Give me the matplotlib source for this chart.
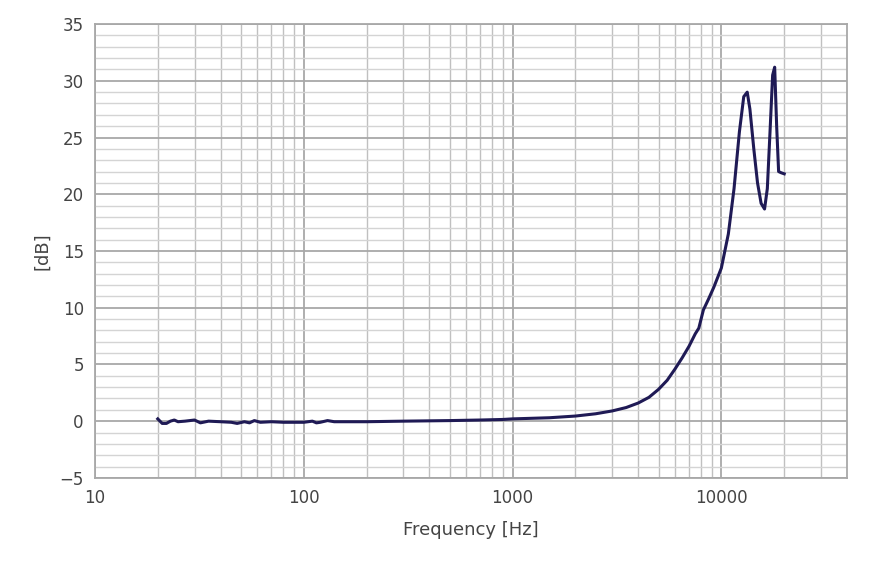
import numpy as np
import matplotlib.pyplot as plt
from matplotlib.ticker import FixedLocator, MultipleLocator, NullFormatter

freq = [20, 21, 22, 23, 24, 25, 27, 30, 32, 35, 40, 45, 48, 52, 55, 58, 62, 70, 80, 100,
        110, 115, 120, 130, 140, 160, 200, 300, 500, 700, 900, 1000, 1500, 2000, 2500, 3000,
        3500, 4000, 4500, 5000, 5500, 6000, 6500, 7000, 7500, 7800, 8200, 8700, 9200, 10000,
        10800, 11500, 12200, 12800, 13300, 13700, 14300, 14900, 15500, 16100, 16600, 17100,
        17600, 18000, 18400, 18800, 19300, 20000]
db = [0.2, -0.2, -0.2, 0.0, 0.1, -0.05, 0.0, 0.1, -0.15, 0.0, -0.05, -0.1, -0.2, -0.05, -0.15, 0.05, -0.1, -0.05, -0.1, -0.1,
      0.0, -0.15, -0.1, 0.05, -0.05, -0.05, -0.05, 0.0, 0.05, 0.1, 0.15, 0.2, 0.3, 0.45, 0.65, 0.9,
      1.2, 1.6, 2.1, 2.8, 3.6, 4.6, 5.6, 6.6, 7.7, 8.2, 9.8, 10.8, 11.8, 13.5,
      16.5, 20.5, 25.5, 28.6, 29.0, 27.5, 24.0, 21.0, 19.2, 18.7, 20.5, 25.5,
      30.5, 31.2, 26.0, 22.0, 21.9, 21.8]

fig, ax = plt.subplots(figsize=(8.87, 5.73), dpi=100)
fig.subplots_adjust(left=0.107, right=0.955, top=0.958, bottom=0.166)

ax.set_xscale('log')
ax.set_xlim(10, 40000)
ax.set_ylim(-5, 35)
ax.xaxis.set_major_locator(FixedLocator([10, 100, 1000, 10000]))
ax.xaxis.set_major_formatter(plt.FuncFormatter(lambda v, p: '%d' % v))
minors = [m * d for d in [10, 100, 1000] for m in range(2, 10)] + [20000, 30000]
ax.xaxis.set_minor_locator(FixedLocator(minors))
ax.xaxis.set_minor_formatter(NullFormatter())
ax.yaxis.set_minor_locator(MultipleLocator(1))
ax.set_yticks(range(-5, 36, 5))
ax.set_yticklabels(['\u22125' if v < 0 else str(v) for v in range(-5, 36, 5)])

ax.grid(which='major', axis='y', color='#a8a8a8', lw=1.3)
ax.grid(which='minor', axis='y', color='#d4d4d4', lw=1.0)
ax.grid(which='major', axis='x', color='#a8a8a8', lw=1.3)
ax.grid(which='minor', axis='x', color='#c0c0c0', lw=1.0)
ax.set_axisbelow(True)
for s in ax.spines.values():
    s.set_color('#a8a8a8')
    s.set_linewidth(1.3)
ax.tick_params(which='both', length=0, labelsize=12, colors='#444444', pad=8)

ax.plot(freq, db, color='#1f1a55', lw=2.2)

ax.set_xlabel('Frequency [Hz]', fontsize=13, color='#444444', labelpad=10)
ax.set_ylabel('[dB]', fontsize=13, color='#444444', labelpad=6)

fig.savefig('out.png')
